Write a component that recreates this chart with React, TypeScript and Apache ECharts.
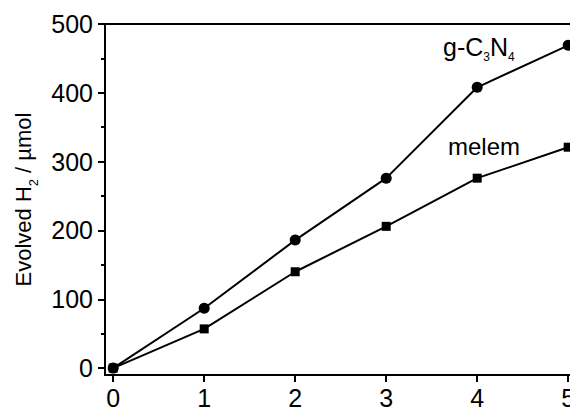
import React, { useEffect, useRef } from "react";
import * as echarts from "echarts";

const xValues = [0, 1, 2, 3, 4, 5];
const gC3N4 = [0, 87, 186, 276, 408, 469];
const melem = [0, 57, 140, 206, 276, 321];
const yTickValues = [0, 100, 200, 300, 400, 500];
const yMinorValues = [50, 150, 250, 350, 450];
const xTickValues = [0, 1, 2, 3, 4, 5];

const FONT = "Liberation Sans, Arial, sans-serif";

export default function App() {
  const ref = useRef<HTMLDivElement>(null);
  useEffect(() => {
    if (!ref.current) return;
    const chart = echarts.init(ref.current, undefined, { renderer: "svg" });
    const grid = { left: 105, top: 24, width: 490.5, height: 351 };
    chart.setOption({
      animation: false,
      backgroundColor: "#fff",
      grid: { ...grid, show: true, borderColor: "#000", borderWidth: 2, backgroundColor: "transparent" },
      xAxis: {
        type: "value",
        min: -0.09,
        max: 5.3,
        splitLine: { show: false },
        axisLine: { onZero: false, lineStyle: { color: "#000", width: 2 } },
        axisTick: { customValues: xTickValues, length: 7, lineStyle: { color: "#000", width: 2 } },
        axisLabel: { customValues: xTickValues, margin: 10, color: "#000", fontSize: 25, fontFamily: FONT },
      },
      yAxis: [
        {
          type: "value",
          min: -10,
          max: 500,
          splitLine: { show: false },
          axisLine: { show: true, onZero: false, lineStyle: { color: "#000", width: 2 } },
          axisTick: { customValues: yTickValues, length: 7, lineStyle: { color: "#000", width: 2 } },
          axisLabel: { customValues: yTickValues, margin: 12, color: "#000", fontSize: 25, fontFamily: FONT },
          name: "{a|Evolved H}{b|2}{a| / µmol}",
          nameLocation: "middle",
          nameGap: 62,
          nameTextStyle: {
            color: "#000",
            fontFamily: FONT,
            rich: {
              a: { fontSize: 22, lineHeight: 34, fontFamily: FONT, color: "#000" },
              b: { fontSize: 13, lineHeight: 13, verticalAlign: "bottom", fontFamily: FONT, color: "#000" },
            },
          },
        },
        {
          type: "value",
          min: -10,
          max: 500,
          position: "left",
          splitLine: { show: false },
          axisLine: { show: false, onZero: false },
          axisTick: { customValues: yMinorValues, length: 4, lineStyle: { color: "#000", width: 2 } },
          axisLabel: { show: false },
        },
      ],
      series: [
        {
          name: "g-C3N4",
          type: "line",
          data: xValues.map((x, i) => [x, gC3N4[i]]),
          symbol: "circle",
          symbolSize: 11,
          itemStyle: { color: "#000" },
          lineStyle: { color: "#000", width: 2 },
          clip: false,
        },
        {
          name: "melem",
          type: "line",
          data: xValues.map((x, i) => [x, melem[i]]),
          symbol: "rect",
          symbolSize: 9,
          itemStyle: { color: "#000" },
          lineStyle: { color: "#000", width: 2 },
          clip: false,
        },
      ],
      graphic: [
        {
          type: "text",
          x: 443,
          y: 63,
          style: {
            text: "{a|g-C}{b|3}{a|N}{b|4}",
            verticalAlign: "bottom",
            fill: "#000",
            rich: {
              a: { fontSize: 25, lineHeight: 32, fontFamily: FONT, fill: "#000" },
              b: { fontSize: 12, lineHeight: 12, verticalAlign: "bottom", fontFamily: FONT, fill: "#000" },
            },
          },
        },
        {
          type: "text",
          x: 448,
          y: 134,
          style: {
            text: "melem",
            fontSize: 24,
            fontFamily: FONT,
            fill: "#000",
            verticalAlign: "top",
          },
        },
      ],
    });
    return () => chart.dispose();
  }, []);
  return (
    <div style={{ position: "fixed", left: 0, top: 0, width: 570, height: 410, overflow: "hidden", background: "#fff" }}>
      <div ref={ref} style={{ width: 600, height: 410 }} />
    </div>
  );
}
